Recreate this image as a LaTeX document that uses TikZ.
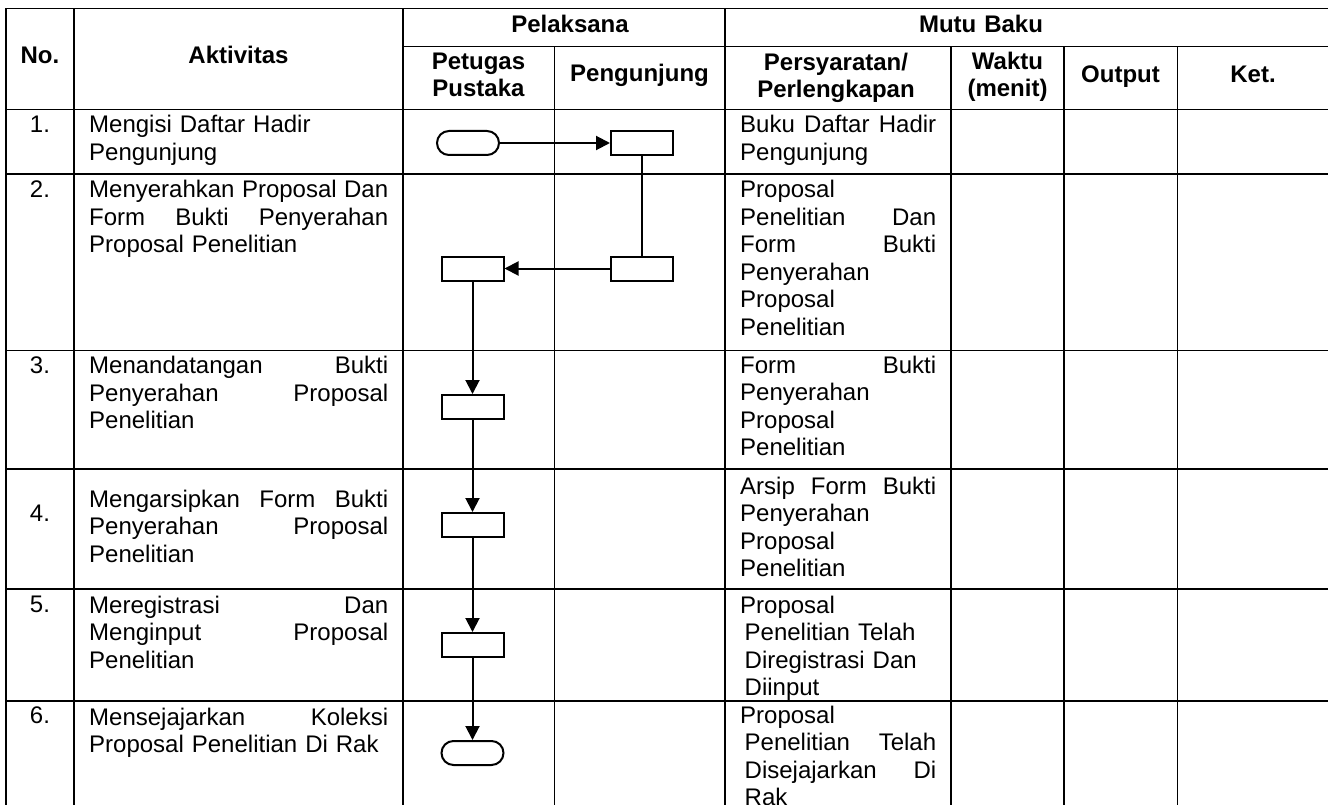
\documentclass[tikz,border=0pt]{standalone}
\usepackage{fontspec}
\setmainfont{Liberation Sans}
\usetikzlibrary{arrows.meta}
\begin{document}
\begin{tikzpicture}[x=1pt,y=-1pt,
  grid/.style={line width=1.3pt, black},
  hdr/.style={font=\bfseries\fontsize{24}{27}\selectfont, align=center, inner sep=0, anchor=base, text width=200pt},
  cell/.style={font=\fontsize{24}{27.6}\selectfont, align=left, inner sep=0, anchor=base west},
  num/.style={font=\fontsize{24}{27.6}\selectfont, inner sep=0, anchor=base},
  procbox/.style={draw, line width=2pt, minimum width=62pt, minimum height=24pt, inner sep=0},
  termbox/.style={procbox, rounded corners=12pt},
  flow/.style={line width=2pt, -{Triangle[length=14pt,width=14pt]}},
  link/.style={line width=2pt}
]
\useasboundingbox (0,0) rectangle (1328,805);
\clip (0,0) rectangle (1328,805);
\fill[white] (0,0) rectangle (1328,805);

% table grid
\draw[grid] (6,8.3) -- (1330,8.3);
\draw[grid] (403,46.7) -- (1330,46.7);
\foreach \yy in {109.7,174,350.5,469,589,701}
  \draw[grid] (6,\yy) -- (1330,\yy);
\foreach \xx in {6,74,403}
  \draw[grid] (\xx,8.3) -- (\xx,810);
\draw[line width=1.8pt] (725,8.3) -- (725,810);
\foreach \xx in {554.5,951,1064,1177.5}
  \draw[grid] (\xx,46.7) -- (\xx,810);

% headers
\node[hdr] (hNo) at (40,64) {No.};
\node[hdr] (hAkt) at (238.5,64) {Aktivitas};
\node[hdr] (hPel) at (570,32.5) {Pelaksana};
\node[hdr] (hMutu) at (981,32.5) {Mutu Baku};
\node[hdr] (hPet) at (478.5,69.5) {Petugas\\Pustaka};
\node[hdr] (hPeng) at (639.5,81.7) {Pengunjung};
\node[hdr] (hPers) at (836,70.5) {Persyaratan/\\Perlengkapan};
\node[hdr] (hWak) at (1007.5,69.5) {Waktu\\(menit)};
\node[hdr] (hOut) at (1120.5,82.5) {Output};
\node[hdr] (hKet) at (1253,82.5) {Ket.};

% numbers
\node[num] (n1) at (40,133) {1.};
\node[num] (n2) at (40,197.5) {2.};
\node[num] (n3) at (40,373.5) {3.};
\node[num] (n4) at (40,521) {4.};
\node[num] (n5) at (40,612.5) {5.};
\node[num] (n6) at (40,723) {6.};

% aktivitas
\node[cell, text width=299pt] (a1) at (89,133) {Mengisi Daftar Hadir\\Pengunjung};
\node[cell, text width=299pt] (a2) at (89,197.5) {Menyerahkan\hfill Proposal\hfill Dan\\Form\hfill Bukti\hfill Penyerahan\\Proposal Penelitian};
\node[cell, text width=299pt] (a3) at (89,373.5) {Menandatangan\hfill Bukti\\Penyerahan\hfill Proposal\\Penelitian};
\node[cell, text width=299pt] (a4) at (89,507) {Mengarsipkan\hfill Form\hfill Bukti\\Penyerahan\hfill Proposal\\Penelitian};
\node[cell, text width=299pt] (a5) at (89,613) {Meregistrasi\hfill Dan\\Menginput\hfill Proposal\\Penelitian};
\node[cell, text width=299pt] (a6) at (89,725) {Mensejajarkan\hfill Koleksi\\Proposal Penelitian Di Rak};

% persyaratan
\node[cell, text width=196pt] (p1) at (740,133) {Buku\hfill Daftar\hfill Hadir\\Pengunjung};
\node[cell, text width=196pt] (p2) at (740,197.5) {Proposal\\Penelitian\hfill Dan\\Form\hfill Bukti\\Penyerahan\\Proposal\\Penelitian};
\node[cell, text width=196pt] (p3) at (740,373) {Form\hfill Bukti\\Penyerahan\\Proposal\\Penelitian};
\node[cell, text width=196pt] (p4) at (740,494) {Arsip\hfill Form\hfill Bukti\\Penyerahan\\Proposal\\Penelitian};
\node[cell, text width=196pt] (p5) at (740,613) {Proposal\\\hspace*{4.5pt}Penelitian Telah\\\hspace*{4.5pt}Diregistrasi Dan\\\hspace*{4.5pt}Diinput};
\node[cell, text width=196pt] (p6) at (740,723) {Proposal\\\hspace*{4.5pt}Penelitian\hfill Telah\\\hspace*{4.5pt}Disejajarkan\hfill Di\\\hspace*{4.5pt}Rak};

% flowchart shapes
\node[termbox] (t1) at (468,143) {};
\node[procbox] (b1) at (642,143) {};
\node[procbox] (b2) at (642,268.5) {};
\node[procbox] (b3) at (472.5,268.5) {};
\node[procbox] (b4) at (472.5,407) {};
\node[procbox] (b5) at (472.5,525) {};
\node[procbox] (b6) at (472.5,645) {};
\node[termbox] (t2) at (472.5,753) {};

% connectors
\draw[flow] (t1) -- (b1);
\draw[link] (b1) -- (b2);
\draw[flow] (b2) -- (b3);
\draw[flow] (b3) -- (b4);
\draw[flow] (b4) -- (b5);
\draw[flow] (b5) -- (b6);
\draw[flow] (b6) -- (t2);
\end{tikzpicture}
\end{document}
